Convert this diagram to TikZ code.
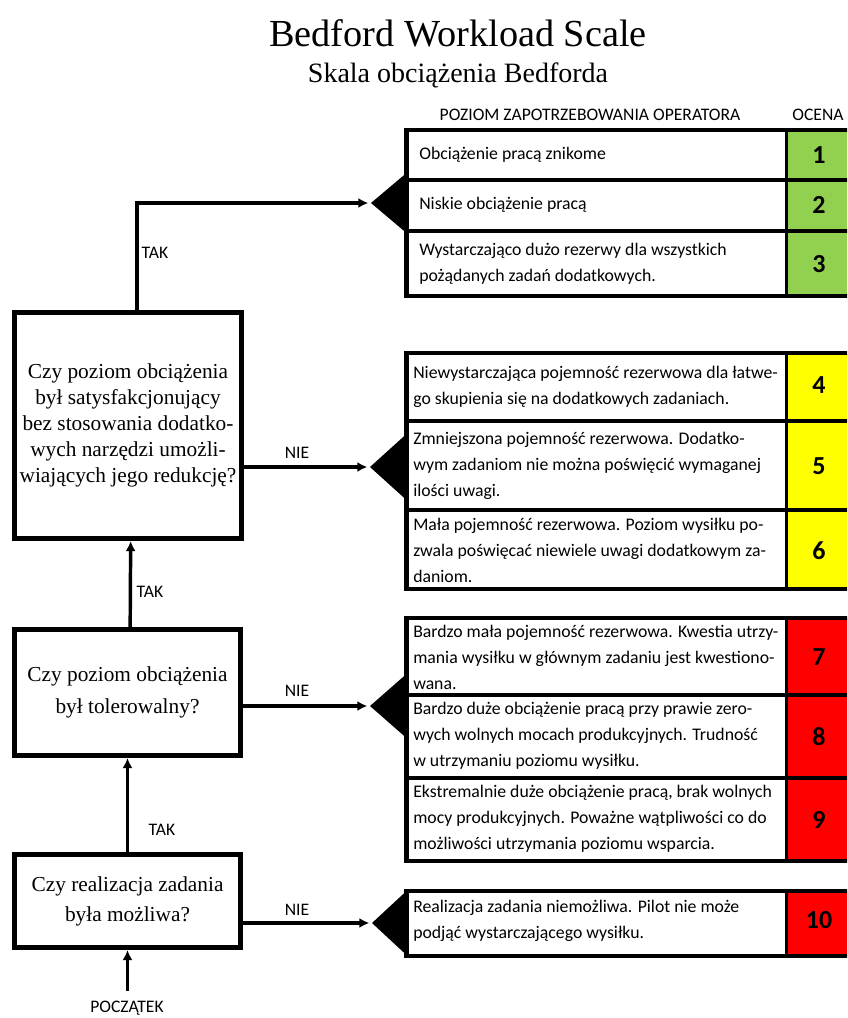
\documentclass[tikz,border=0pt]{standalone}
\usepackage{fontspec}
\setmainfont{Liberation Serif}
\newfontfamily\carlito{Carlito}
\usetikzlibrary{arrows.meta}
\definecolor{lowload}{HTML}{92D050}
\definecolor{midload}{HTML}{FFFF00}
\definecolor{highload}{HTML}{FF0000}
\tikzset{
  qbox/.style={draw, line width=3.8pt, align=center, inner sep=0pt},
  flow/.style={line width=2.6pt, -{Latex[length=7.5pt,width=7.5pt]}, shorten >=2pt},
  celltext/.style={anchor=west, align=left, inner sep=0pt, font=\carlito\fontsize{13.3}{19.5}\selectfont},
  score/.style={inner sep=0pt, font=\carlito\bfseries\fontsize{19.5}{19.5}\selectfont},
  tag/.style={inner sep=0pt, font=\carlito\fontsize{13.2}{14}\selectfont},
  frame/.style={line width=3.6pt},
  divider/.style={line width=2.8pt},
  pointer/.style={fill=black},
}
\begin{document}
\begin{tikzpicture}[x=0.75pt,y=-0.75pt]
\useasboundingbox (0,0) rectangle (847,1018);
\clip (0,0) rectangle (847,1018);

% titles
\node[inner sep=0pt, font=\fontsize{28.7}{30}\selectfont] (title) at (458,33) {Bedford Workload Scale};
\node[inner sep=0pt, font=\fontsize{21}{24}\selectfont] (subtitle) at (458,75) {Skala obciążenia Bedforda};

% column headers
\node[tag] (hdemand) at (590,115) {POZIOM ZAPOTRZEBOWANIA OPERATORA};
\node[tag] (hscore) at (818,115) {OCENA};

% ---------- ratings 1-3 ----------
\fill[lowload] (786.5,130) rectangle (870,296);
\draw[divider] (406.5,180) -- (870,180);
\draw[divider] (406.5,231) -- (870,231);
\draw[divider] (786.5,130) -- (786.5,296);
\draw[frame] (870,130) -- (406.5,130) -- (406.5,296) -- (870,296);
\coordinate (t1) at (371,203);
\fill[pointer] (t1) -- (406.5,173) -- (406.5,233) -- cycle;
\node[celltext] (c1) at (419,155) {Obciążenie pracą znikome};
\node[celltext] (c2) at (419,205) {Niskie obciążenie pracą};
\node[celltext] (c3) at (419,264) {Wystarczająco dużo rezerwy dla wszystkich\\pożądanych zadań dodatkowych.};
\node[score] (n1) at (819,155) {1};
\node[score] (n2) at (819,205) {2};
\node[score] (n3) at (819,264) {3};

% ---------- ratings 4-6 ----------
\fill[midload] (786.5,353) rectangle (870,589);
\draw[divider] (406.5,421) -- (870,421);
\draw[divider] (406.5,510) -- (870,510);
\draw[divider] (786.5,353) -- (786.5,589);
\draw[frame] (870,353) -- (406.5,353) -- (406.5,589) -- (870,589);
\coordinate (t2) at (370,467);
\fill[pointer] (t2) -- (406.5,434) -- (406.5,500) -- cycle;
\node[celltext] (c4) at (413,387) {Niewystarczająca pojemność rezerwowa dla łatwe-\\go skupienia się na dodatkowych zadaniach.};
\node[celltext] (c5) at (413,466) {Zmniejszona pojemność rezerwowa. Dodatko-\\wym zadaniom nie można poświęcić wymaganej\\ilości uwagi.};
\node[celltext] (c6) at (413,550) {Mała pojemność rezerwowa. Poziom wysiłku po-\\zwala poświęcać niewiele uwagi dodatkowym za-\\daniom.};
\node[score] (n4) at (819,385) {4};
\node[score] (n5) at (819,466) {5};
\node[score] (n6) at (819,551) {6};

% ---------- ratings 7-9 ----------
\fill[highload] (786.5,618) rectangle (870,861);
\draw[divider] (406.5,695) -- (870,695);
\draw[divider] (406.5,778) -- (870,778);
\draw[divider] (786.5,618) -- (786.5,861);
\draw[frame] (870,618) -- (406.5,618) -- (406.5,861) -- (870,861);
\coordinate (t3) at (370,706);
\fill[pointer] (t3) -- (406.5,674) -- (406.5,738) -- cycle;
\node[celltext] (c7) at (413,657) {Bardzo mała pojemność rezerwowa. Kwestia utrzy-\\mania wysiłku w głównym zadaniu jest kwestiono-\\wana.};
\node[celltext] (c8) at (413,736) {Bardzo duże obciążenie pracą przy prawie zero-\\wych wolnych mocach produkcyjnych. Trudność\\w utrzymaniu poziomu wysiłku.};
\node[celltext] (c9) at (413,819) {Ekstremalnie duże obciążenie pracą, brak wolnych\\mocy produkcyjnych. Poważne wątpliwości co do\\możliwości utrzymania poziomu wsparcia.};
\node[score] (n7) at (819,657) {7};
\node[score] (n8) at (819,737) {8};
\node[score] (n9) at (819,820) {9};

% ---------- rating 10 ----------
\fill[highload] (786.5,891) rectangle (870,956);
\draw[divider] (786.5,891) -- (786.5,956);
\draw[frame] (870,891) -- (406.5,891) -- (406.5,956) -- (870,956);
\coordinate (t4) at (372,923);
\fill[pointer] (t4) -- (406.5,891) -- (406.5,955) -- cycle;
\node[celltext] (c10) at (413,921) {Realizacja zadania niemożliwa. Pilot nie może\\podjąć wystarczającego wysiłku.};
\node[score] (n10) at (819,920) {10};

% ---------- decision boxes ----------
\node[qbox, minimum width=170pt, minimum height=169.5pt, font=\fontsize{16}{19.5}\selectfont] (q1) at (128,425.5)
  {Czy poziom obciążenia\\był satysfakcjonujący\\bez stosowania dodatko-\\wych narzędzi umożli-\\wiających jego redukcję?};
\node[qbox, minimum width=169.5pt, minimum height=94.5pt, font=\fontsize{16}{24}\selectfont] (q2) at (127.5,692.5)
  {Czy poziom obciążenia\\był tolerowalny?};
\node[qbox, minimum width=169.5pt, minimum height=69.75pt, font=\fontsize{16}{22.5}\selectfont] (q3) at (127.5,901)
  {Czy realizacja zadania\\była możliwa?};

% ---------- connectors ----------
\coordinate (s0) at (127.5,991);
\draw[flow, shorten >=0pt] (s0) -- (q3.south);
\draw[flow, shorten >=0pt] (q3.north) -- (q2.south);
\draw[flow, shorten >=0pt] ([xshift=2pt]q2.north) -- ([xshift=2pt]q1.south);
\draw[flow] ([xshift=6.75pt]q1.north) |- (t1);
\draw[flow] (q1.east |- t2) -- (t2);
\draw[flow] (q2.east |- t3) -- (t3);
\draw[flow] (q3.east |- t4) -- (t4);

% ---------- branch labels ----------
\node[tag] (yes1) at (155,253) {TAK};
\node[tag] (yes2) at (150,592) {TAK};
\node[tag] (yes3) at (162,830) {TAK};
\node[tag] (no1) at (297,453) {NIE};
\node[tag] (no2) at (297,691) {NIE};
\node[tag] (no3) at (297,910) {NIE};
\node[tag] (begin) at (127,1008) {POCZĄTEK};
\end{tikzpicture}
\end{document}
